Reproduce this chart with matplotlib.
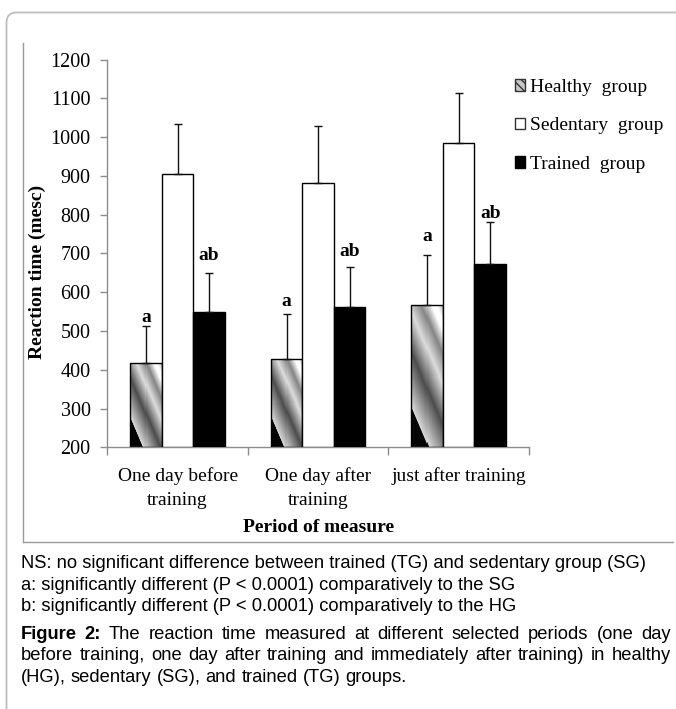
import numpy as np
import matplotlib
matplotlib.use("Agg")
import matplotlib.pyplot as plt
from matplotlib.patches import Patch, FancyBboxPatch
from matplotlib.lines import Line2D
from matplotlib.transforms import IdentityTransform

# ---------------- data ----------------
periods = ["One day before\ntraining", "One day after\ntraining", "just after training"]
groups = ["Healthy  group", "Sedentary  group", "Trained  group"]
healthy = [418, 427, 567]
healthy_err = [95, 118, 128]
sedentary = [905, 883, 984]
sedentary_err = [129, 147, 131]
trained = [550, 562, 674]
trained_err = [100, 102, 106]
healthy_marks = ["a", "a", "a"]
trained_marks = ["ab", "ab", "ab"]
yticks = [200, 300, 400, 500, 600, 700, 800, 900, 1000, 1100, 1200]
ylabel = "Reaction time (mesc)"
xlabel = "Period of measure"
notes = [
    "NS: no significant difference between trained (TG) and sedentary group (SG)",
    "a: significantly different (P < 0.0001) comparatively to the SG",
    "b: significantly different (P < 0.0001) comparatively to the HG",
]
caption_bold = "Figure 2:"
caption = ("The reaction time measured at different selected periods (one day "
           "before training, one day after training and immediately after training) in healthy "
           "(HG), sedentary (SG), and trained (TG) groups.")

# ---------------- layout / style ----------------
W, H = 676, 709
plt.rcParams["font.family"] = ["Liberation Serif", "DejaVu Serif"]
fig = plt.figure(figsize=(W / 100, H / 100), dpi=100)

def fx(px):
    return px / W

def fy(py):
    return 1 - py / H

ax_left, ax_right, ax_top, ax_bot = 107.3, 529.0, 59.6, 447.3
ax = fig.add_axes([fx(ax_left), fy(ax_bot), fx(ax_right - ax_left), (ax_bot - ax_top) / H])
ymin, ymax = yticks[0], yticks[-1]
ax.set_xlim(0, len(periods))
ax.set_ylim(ymin, ymax)

bw = 0.224
xc = np.arange(len(periods)) + 0.5
x_h, x_s, x_t = xc - bw, xc, xc + bw

# Healthy bars: gradient-striped fill clipped to each bar
hbars = ax.bar(x_h, np.array(healthy) - ymin, bw, bottom=ymin, facecolor="none",
               edgecolor="black", linewidth=1.0, zorder=3)
stops_t = [0.0, 0.18, 0.19, 0.44, 0.63, 0.77, 0.88, 0.93, 1.0]
stops_v = [0.02, 0.02, 0.84, 0.30, 0.86, 0.52, 1.0, 1.0, 0.72]
for bar in hbars:
    x0, y0 = bar.get_x(), bar.get_y()
    x1, y1 = x0 + bar.get_width(), y0 + bar.get_height()
    p0 = ax.transData.transform((x0, y0))
    p1 = ax.transData.transform((x1, y1))
    wp = max(int(round(p1[0] - p0[0])), 2)
    hp = max(int(round(p1[1] - p0[1])), 2)
    X, Y = np.meshgrid(np.arange(wp) + 0.5, np.arange(hp) + 0.5)
    s = 0.92 * X - 0.39 * Y
    t = (s - s.min()) / (s.max() - s.min())
    img = np.interp(t, stops_t, stops_v)
    im = ax.imshow(img, extent=(x0, x1, y0, y1), cmap="gray", vmin=0, vmax=1,
                   aspect="auto", interpolation="nearest", zorder=2)
    im.set_clip_path(bar)

ax.bar(x_s, np.array(sedentary) - ymin, bw, bottom=ymin, facecolor="white",
       edgecolor="black", linewidth=1.0, zorder=3)
ax.bar(x_t, np.array(trained) - ymin, bw, bottom=ymin, facecolor="black",
       edgecolor="black", linewidth=1.0, zorder=3)

for xs, vals, errs in [(x_h, healthy, healthy_err), (x_s, sedentary, sedentary_err),
                       (x_t, trained, trained_err)]:
    ax.errorbar(xs, vals, yerr=[np.zeros(len(vals)), errs], fmt="none", ecolor="#111111",
                elinewidth=1.0, capsize=2.6, capthick=1.0, zorder=4)

ax.set_xlim(0, len(periods))
ax.set_ylim(ymin, ymax)

# significance letters
h_off = [2.5, 5.3, 10.4]
t_off = [9.2, 8.1, 3.1]
for i in range(len(periods)):
    ax.annotate(healthy_marks[i], (x_h[i], healthy[i] + healthy_err[i]), xytext=(0, h_off[i]),
                textcoords="offset points", ha="center", va="baseline",
                fontsize=14, fontweight="bold")
    ax.annotate(trained_marks[i], (x_t[i], trained[i] + trained_err[i]), xytext=(0, t_off[i]),
                textcoords="offset points", ha="center", va="baseline",
                fontsize=14, fontweight="bold")

# axes styling
axis_col = "#8c8c8c"
for side in ["top", "right"]:
    ax.spines[side].set_visible(False)
for side in ["left", "bottom"]:
    ax.spines[side].set_color(axis_col)
    ax.spines[side].set_linewidth(1.0)
ax.set_yticks(yticks)
ax.set_yticklabels([str(v) for v in yticks])
ax.tick_params(axis="y", direction="out", length=5, width=1, color=axis_col,
               labelsize=14.5, pad=7)
ax.set_xticks(np.arange(len(periods) + 1))
ax.set_xticklabels([])
ax.tick_params(axis="x", which="major", direction="out", length=5.5, width=1, color=axis_col)
ax.set_xticks(xc, minor=True)
ax.set_xticklabels(periods, minor=True)
ax.tick_params(axis="x", which="minor", length=0, labelsize=14, pad=14)
for lbl in ax.get_xticklabels(minor=True):
    lbl.set_linespacing(1.55)

ax.set_ylabel(ylabel, fontsize=14, fontweight="bold")
ax.yaxis.set_label_coords((37.5 - ax_left) / (ax_right - ax_left), (ax_bot - 272) / (ax_bot - ax_top))
ax.yaxis.label.set_verticalalignment("center")
ax.set_xlabel(xlabel, fontsize=14, fontweight="bold")
ax.xaxis.set_label_coords(0.5, (ax_bot - 527) / (ax_bot - ax_top))
ax.xaxis.label.set_verticalalignment("center")

# legend
handles = [Patch(facecolor="#c8c8c8", edgecolor="#333333", hatch="\\\\\\\\", linewidth=1.0),
           Patch(facecolor="white", edgecolor="#333333", linewidth=1.0),
           Patch(facecolor="black", edgecolor="black", linewidth=1.0)]
ax.legend(handles, groups, loc="upper left", bbox_to_anchor=(fx(515), fy(79)),
          bbox_transform=fig.transFigure, frameon=False, fontsize=14, borderpad=0,
          borderaxespad=0, handlelength=0.52, handleheight=0.52, handletextpad=0.26,
          labelspacing=1.1)

# frames
idt = IdentityTransform()
frame = FancyBboxPatch((6.5, -60), 760, H - 12.5 + 60, boxstyle="round,pad=0,rounding_size=10",
                       transform=idt, fill=False, edgecolor="#bdbdbd", linewidth=1.3)
fig.add_artist(frame)
fig.add_artist(Line2D([22.5, 22.5], [H - 43, H - 541.7], transform=idt, color="#9a9a9a", lw=1.0))
fig.add_artist(Line2D([22.5, 673], [H - 541.7, H - 541.7], transform=idt, color="#9a9a9a", lw=1.0))

# caption notes
sans = ["Liberation Sans", "DejaVu Sans"]
cap_fs = 13.2
x_l, x_r = 20.7, 671.0
base = 568.0
for i, line in enumerate(notes):
    fig.text(fx(x_l), fy(base + i * 21.5), line, family=sans, fontsize=cap_fs, va="baseline")

renderer = fig.canvas.get_renderer()

def place_words(words, y, justify):
    arts, widths = [], []
    for wd, bold in words:
        t = fig.text(0, fy(y), wd, family=sans, fontsize=cap_fs, va="baseline",
                     fontweight="bold" if bold else "normal")
        arts.append(t)
        widths.append(t.get_window_extent(renderer).width)
    sp = fig.text(0, 0, "a a", family=sans, fontsize=cap_fs)
    sp2 = fig.text(0, 0, "aa", family=sans, fontsize=cap_fs)
    space_w = sp.get_window_extent(renderer).width - sp2.get_window_extent(renderer).width
    sp.remove(); sp2.remove()
    if justify and len(words) > 1:
        gap = (x_r - x_l - sum(widths)) / (len(words) - 1)
    else:
        gap = space_w
    x = x_l
    for t, w in zip(arts, widths):
        t.set_x(fx(x))
        x += w + gap

all_words = [(w, True) for w in caption_bold.split()] + [(w, False) for w in caption.split()]
# break into lines like the reference
breaks = ["day", "healthy"]
lines, cur = [], []
bi = 0
for w in all_words:
    cur.append(w)
    if bi < len(breaks) and w[0] == breaks[bi]:
        lines.append(cur); cur = []; bi += 1
if cur:
    lines.append(cur)
fbase = 639.0
for i, ln in enumerate(lines):
    place_words(ln, fbase + i * 21.5, justify=(i < len(lines) - 1))

fig.savefig("out.png", dpi=100)
